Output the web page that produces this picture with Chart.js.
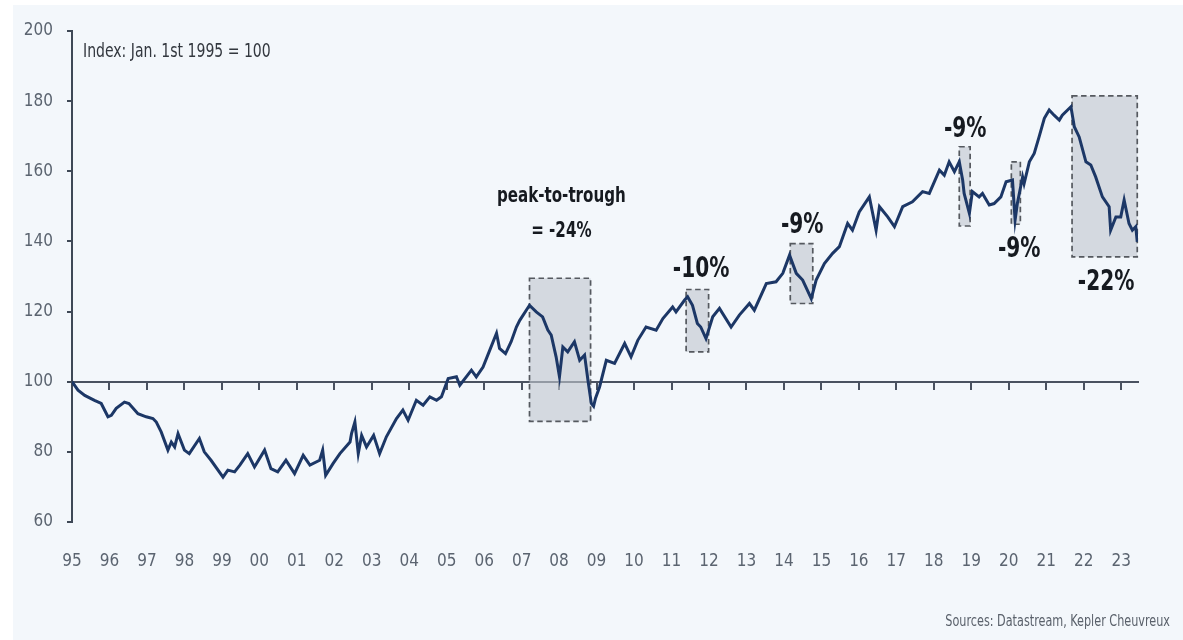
<!DOCTYPE html>
<html>
<head>
<meta charset="utf-8">
<script src="https://cdn.jsdelivr.net/npm/chart.js@4.4.1/dist/chart.umd.min.js"></script>
<style>
  html, body { margin: 0; padding: 0; background: #fff; }
  #panel { position: absolute; left: 13px; top: 5px; width: 1170px; height: 635px; background: #f3f7fb; }
  #wrap { position: absolute; left: 0; top: 0; width: 1183px; height: 640px; }
  .note { position: absolute; white-space: nowrap; font-family: 'Liberation Sans Narrow', 'DejaVu Sans Condensed', 'Arial Narrow', sans-serif; }
  #index { left: 83px; top: 38px; font-size: 20px; color: #33383f; transform: scaleX(0.78); transform-origin: left center; }
  #source { right: 13px; top: 611px; font-size: 16px; color: #5a616b; transform: scaleX(0.78); transform-origin: right center; }
</style>
</head>
<body>
<div id="panel"></div>
<div id="wrap"><canvas id="chart"></canvas></div>
<div class="note" id="index">Index: Jan. 1st 1995 = 100</div>
<div class="note" id="source">Sources: Datastream, Kepler Cheuvreux</div>
<script>
// index level (Jan. 1st 1995 = 100)
const years = [
  1995.00, 1995.16, 1995.34, 1995.60, 1995.78, 1995.96, 1996.05, 1996.18, 1996.40, 1996.52,
  1996.76, 1996.98, 1997.16, 1997.25, 1997.38, 1997.56, 1997.65, 1997.74, 1997.83, 1998.00,
  1998.13, 1998.40, 1998.53, 1998.71, 1999.03, 1999.16, 1999.34, 1999.48, 1999.69, 1999.87,
  2000.14, 2000.31, 2000.49, 2000.71, 2000.94, 2001.17, 2001.35, 2001.61, 2001.69, 2001.77,
  2001.97, 2002.15, 2002.42, 2002.46, 2002.55, 2002.64, 2002.73, 2002.86, 2003.05, 2003.21,
  2003.39, 2003.66, 2003.83, 2003.97, 2004.19, 2004.37, 2004.55, 2004.73, 2004.86, 2005.04,
  2005.26, 2005.35, 2005.66, 2005.79, 2005.97, 2006.15, 2006.33, 2006.41, 2006.57, 2006.72,
  2006.86, 2006.95, 2007.21, 2007.39, 2007.56, 2007.70, 2007.79, 2007.92, 2008.01, 2008.10,
  2008.23, 2008.41, 2008.55, 2008.68, 2008.77, 2008.86, 2008.92, 2008.97, 2009.08, 2009.26,
  2009.48, 2009.75, 2009.92, 2010.10, 2010.32, 2010.59, 2010.77, 2011.03, 2011.12, 2011.35,
  2011.43, 2011.56, 2011.69, 2011.78, 2011.92, 2012.10, 2012.28, 2012.59, 2012.81, 2013.08,
  2013.21, 2013.53, 2013.79, 2013.97, 2014.15, 2014.33, 2014.50, 2014.73, 2014.86, 2015.08,
  2015.30, 2015.48, 2015.70, 2015.83, 2016.01, 2016.28, 2016.46, 2016.55, 2016.77, 2016.95,
  2017.17, 2017.43, 2017.70, 2017.88, 2018.15, 2018.28, 2018.41, 2018.55, 2018.68, 2018.77,
  2018.81, 2018.95, 2019.03, 2019.21, 2019.30, 2019.48, 2019.61, 2019.79, 2019.93, 2020.10,
  2020.17, 2020.23, 2020.37, 2020.41, 2020.55, 2020.68, 2020.81, 2020.95, 2021.08, 2021.21,
  2021.35, 2021.43, 2021.66, 2021.75, 2021.88, 2022.06, 2022.19, 2022.32, 2022.50, 2022.68,
  2022.72, 2022.86, 2022.99, 2023.08, 2023.21, 2023.30, 2023.39, 2023.43
]
const index = [
  100.0, 97.6, 96.1, 94.7, 93.8, 90.0, 90.4, 92.4, 94.2, 93.8,
  90.9, 90.0, 89.5, 88.5, 85.7, 80.5, 82.8, 81.4, 85.2, 80.5,
  79.5, 83.8, 80.0, 77.6, 72.8, 74.8, 74.3, 76.2, 79.5, 75.7,
  80.5, 75.2, 74.3, 77.6, 73.8, 79.0, 76.2, 77.6, 80.5, 73.3,
  76.7, 79.5, 82.8, 85.2, 88.5, 79.5, 84.7, 81.4, 84.7, 79.5,
  84.3, 89.5, 91.9, 89.0, 94.7, 93.3, 95.7, 94.7, 95.7, 100.9,
  101.4, 99.0, 103.3, 101.4, 104.2, 109.0, 113.8, 109.5, 108.0, 111.4,
  115.6, 117.5, 121.8, 119.9, 118.5, 114.7, 113.3, 107.1, 101.4, 109.9,
  108.5, 111.4, 106.1, 107.6, 100.4, 93.8, 93.0, 95.2, 98.5, 106.1,
  105.2, 110.9, 107.1, 111.8, 115.6, 114.7, 118.0, 121.3, 119.9, 123.3,
  124.2, 121.8, 116.6, 115.6, 112.3, 118.5, 120.9, 115.6, 119.0, 122.3,
  120.4, 128.0, 128.5, 130.9, 136.1, 130.9, 129.0, 123.7, 129.0, 133.7,
  136.6, 138.5, 145.1, 143.2, 148.4, 152.7, 143.2, 149.9, 147.0, 144.2,
  149.9, 151.3, 154.2, 153.7, 160.3, 158.9, 162.7, 159.9, 162.7, 157.5,
  153.7, 148.0, 154.2, 152.7, 153.7, 150.4, 150.8, 152.7, 157.0, 157.5,
  146.1, 150.8, 158.4, 156.5, 162.7, 165.1, 169.8, 175.1, 177.5, 176.0,
  174.6, 176.0, 178.4, 172.7, 169.8, 162.7, 161.8, 158.4, 152.7, 149.9,
  143.2, 147.0, 147.0, 151.8, 145.1, 143.2, 144.2, 139.9
]

// peak-to-trough drawdown windows
const dropStart = [2007.21, 2011.39, 2014.17, 2018.68, 2020.07, 2021.69]
const dropEnd = [2008.84, 2011.99, 2014.77, 2018.97, 2020.31, 2023.43]
const dropLow = [88.7, 108.5, 122.3, 144.4, 144.9, 135.6]
const dropHigh = [129.5, 126.3, 139.4, 167.0, 162.7, 181.5]

// drawdown labels, anchored in data units
const labelText = ["peak-to-trough", "= -24%", "-10%", "-9%", "-9%", "-9%", "-22%"]
const labelYear = [2008.06, 2008.06, 2011.79, 2014.49, 2018.84, 2020.28, 2022.60]
const labelLevel = [152.7, 142.7, 131.8, 144.4, 171.8, 137.5, 128.1]

const yTicks = [60, 80, 100, 120, 140, 160, 180, 200]
const xMin = 1995
const xMax = 2023.45

const FONT = "'Liberation Sans Narrow', 'DejaVu Sans Condensed', 'Arial Narrow', sans-serif"
const INK = "#3e4856"

const drawdowns = {
  id: "drawdowns",
  beforeDatasetsDraw(chart) {
    const { ctx, scales: { x, y } } = chart
    ctx.save()
    dropStart.forEach((x0, i) => {
      const left = x.getPixelForValue(x0)
      const right = x.getPixelForValue(dropEnd[i])
      const top = y.getPixelForValue(dropHigh[i])
      const bottom = y.getPixelForValue(dropLow[i])
      ctx.fillStyle = "rgba(192, 198, 207, 0.62)"
      ctx.fillRect(left, top, right - left, bottom - top)
      ctx.setLineDash([5.5, 3.5])
      ctx.lineWidth = 1.7
      ctx.strokeStyle = "#55595f"
      ctx.strokeRect(left, top, right - left, bottom - top)
    })
    ctx.restore()
  },
  afterDatasetsDraw(chart) {
    const { ctx, scales: { x, y } } = chart
    ctx.save()
    ctx.textAlign = "center"
    ctx.textBaseline = "middle"
    ctx.fillStyle = "#161a20"
    labelText.forEach((t, i) => {
      const size = i < 2 ? 21 : 28
      ctx.save()
      ctx.translate(x.getPixelForValue(labelYear[i]), y.getPixelForValue(labelLevel[i]))
      ctx.scale(0.8, 1)
      ctx.font = `bold ${size}px ${FONT}`
      ctx.fillText(t, 0, 0)
      ctx.restore()
    })
    ctx.restore()
  }
}

new Chart(document.getElementById("chart"), {
  type: "line",
  data: {
    datasets: [{
      data: years.map((yr, i) => ({ x: yr, y: index[i] })),
      borderColor: "#1c3766",
      borderWidth: 3,
      pointRadius: 0,
      tension: 0,
      xAxisID: "x",
      yAxisID: "y"
    }]
  },
  options: {
    responsive: true,
    maintainAspectRatio: false,
    animation: false,
    layout: { padding: { top: 31, right: 45, bottom: 0, left: 0 } },
    plugins: { legend: { display: false }, tooltip: { enabled: false } },
    scales: {
      x: {
        type: "linear",
        position: "bottom",
        min: xMin,
        max: xMax,
        afterFit: (s) => { s.height = 118 },
        grid: { display: false, drawTicks: false },
        border: { display: false },
        ticks: {
          stepSize: 1,
          includeBounds: false,
          autoSkip: false,
          maxRotation: 0,
          padding: 29,
          color: "#5b6470",
          font: { family: FONT, size: 17 },
          callback: (v) => String(v).slice(2)
        }
      },
      base: {
        type: "linear",
        axis: "x",
        position: { y: 100 },
        min: xMin,
        max: xMax,
        grid: { drawOnChartArea: false, drawTicks: true, tickLength: 7, color: "#4a5260", lineWidth: 2 },
        border: { display: true, color: "#4a5260", width: 2 },
        ticks: { stepSize: 1, includeBounds: false, autoSkip: false, maxRotation: 0, callback: () => "" }
      },
      y: {
        min: 60,
        max: 200,
        afterFit: (s) => { s.width = 72 },
        afterBuildTicks: (s) => { s.ticks = yTicks.map((v) => ({ value: v })) },
        grid: { drawOnChartArea: false, drawTicks: true, tickLength: 5, color: INK, lineWidth: 2 },
        border: { display: true, color: INK, width: 2 },
        ticks: {
          padding: 14,
          color: "#5b6470",
          font: { family: FONT, size: 17 }
        }
      }
    }
  },
  plugins: [drawdowns]
})
</script>
</body>
</html>
